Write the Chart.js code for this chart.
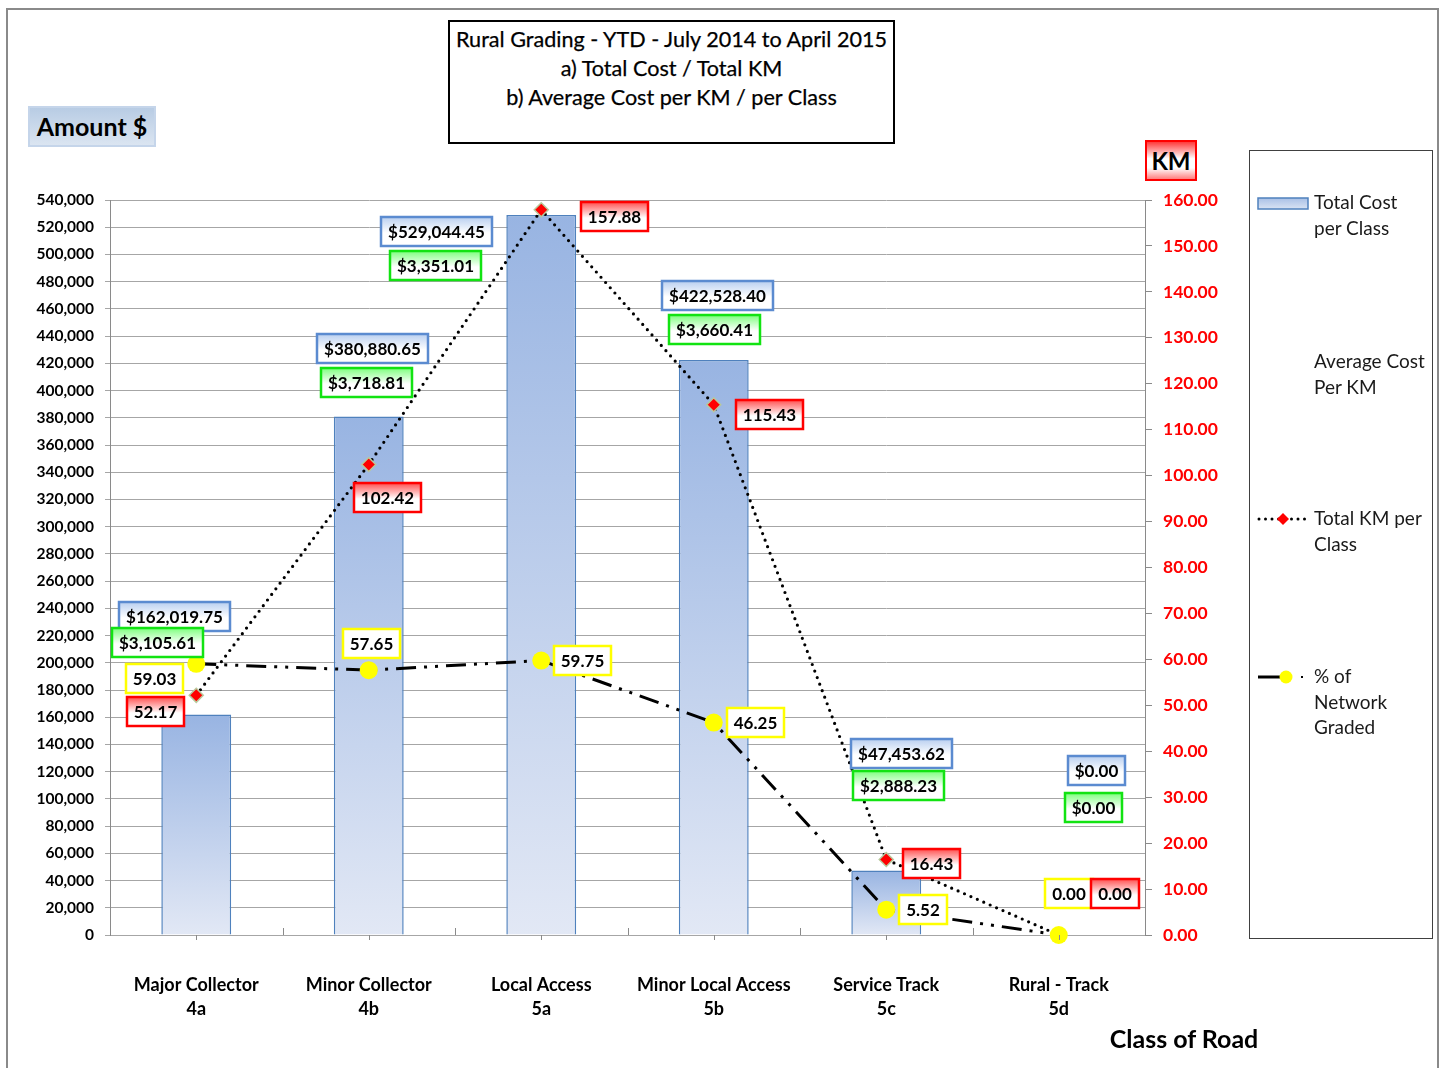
<!DOCTYPE html>
<html>
<head>
<meta charset="utf-8">
<script src="https://cdn.jsdelivr.net/npm/chart.js@4.4.1/dist/chart.umd.min.js"></script>
<style>
  html, body { margin:0; padding:0; background:#fff; }
  #wrap { position:relative; width:1445px; height:1068px; overflow:hidden; font-family:Lato, "Open Sans", sans-serif; }
  #c { position:absolute; left:0; top:0; }
  .abs { position:absolute; box-sizing:border-box; }
  #frame { left:6px; top:8px; width:1433px; height:1100px; border:2px solid #8a8a8a; }
  #title { left:448px; top:20px; width:447px; height:124px; border:2px solid #000; text-align:center; font-size:21.6px; line-height:29px; padding-top:3px; color:#000; background:#fff; -webkit-text-stroke:0.25px #000; }
  #amount { left:28px; top:106px; width:128px; height:41px; border:2px solid #c5d5ea; background:linear-gradient(#b8cce4,#dbe5f1); font-weight:bold; font-size:25px; line-height:37px; text-align:center; color:#000; }
  #km { left:1145px; top:140px; width:52px; height:41px; border:2px solid #ff0000; background:linear-gradient(#ff3b3b 0%, #ffffff 45%, #ffffff 70%, #ff8080 100%); font-weight:bold; font-size:24px; line-height:37px; text-align:center; color:#000; }
  #xtitle { left:1094px; top:1023px; width:180px; font-weight:bold; font-size:25px; text-align:center; color:#000; }
  #legend { left:1249px; top:150px; width:184px; height:789px; border:1px solid #404040; }
  .lt { position:absolute; left:1314px; font-size:19px; line-height:25.5px; color:#1a1a1a; }
</style>
</head>
<body>
<div id="wrap">
  <canvas id="c" width="1445" height="1068"></canvas>
  <div id="frame" class="abs"></div>
  <div id="title" class="abs">Rural Grading - YTD - July 2014 to April 2015<br>a) Total Cost / Total KM<br>b) Average Cost per KM / per Class</div>
  <div id="amount" class="abs">Amount $</div>
  <div id="km" class="abs">KM</div>
  <div id="xtitle" class="abs">Class of Road</div>
  <div id="legend" class="abs"></div>
  <div class="lt" style="top:189px">Total Cost<br>per Class</div>
  <div class="lt" style="top:348px">Average Cost<br>Per KM</div>
  <div class="lt" style="top:505px">Total KM per<br>Class</div>
  <div class="lt" style="top:663px">% of<br>Network<br>Graded</div>
</div>
<script>
// ---- data ----
const categoryNames = ['Major Collector', 'Minor Collector', 'Local Access', 'Minor Local Access', 'Service Track', 'Rural - Track'];
const categoryCodes = ['4a', '4b', '5a', '5b', '5c', '5d'];
const totalCostPerClass = [162019.75, 380880.65, 529044.45, 422528.40, 47453.62, 0.00];
const averageCostPerKm = [3105.61, 3718.81, 3351.01, 3660.41, 2888.23, 0.00];
const totalKmPerClass = [52.17, 102.42, 157.88, 115.43, 16.43, 0.00];
const pctNetworkGraded = [59.03, 57.65, 59.75, 46.25, 5.52, 0.00];
const amountAxis = { min: 0, max: 540000, step: 20000 };
const kmAxis = { min: 0, max: 160, step: 10 };

// ---- label placement (style) ----
const costLabelOffsets = [[-22,-98],[4,-68],[-105,17],[4,-64],[15,-117],[38,-165]];
const avgLabelOffsets  = [[-39,-72],[-2,-34],[-106,51],[1,-30],[12,-85],[35,-128]];
const kmLabelOffsets   = [[-41,16],[19,33],[73,7],[56,10],[45,4],[56,-42]];
const pctLabelOffsets  = [[-42,15],[3,-27],[41,0],[42,0],[37,0],[10,-42]];

const FONT = 'Lato, "Open Sans", sans-serif';
const money = v => '$' + v.toLocaleString('en-US', {minimumFractionDigits:2, maximumFractionDigits:2});
const num2 = v => v.toFixed(2);

function drawBox(c, cx, cy, text, border, topFill) {
  c.save();
  c.font = 'bold 17px ' + FONT;
  const w = Math.round(c.measureText(text).width + 14);
  const h = 29;
  const x = Math.round(cx - w/2), y = Math.round(cy - h/2);
  const g = c.createLinearGradient(0, y, 0, y + h);
  g.addColorStop(0, topFill);
  g.addColorStop(0.55, '#ffffff');
  g.addColorStop(1, '#ffffff');
  c.fillStyle = g;
  c.fillRect(x, y, w, h);
  c.lineWidth = 2.5;
  c.strokeStyle = border;
  c.strokeRect(x, y, w, h);
  c.fillStyle = '#000';
  c.textAlign = 'center';
  c.textBaseline = 'middle';
  c.fillText(text, x + w/2, y + h/2 + 1);
  c.restore();
}

const labelPlugin = {
  id: 'labels',
  afterDatasetsDraw(chart) {
    const c = chart.ctx;
    const bars = chart.getDatasetMeta(0).data;
    const km = chart.getDatasetMeta(1).data;
    const pct = chart.getDatasetMeta(2).data;
    bars.forEach((b, i) => {
      drawBox(c, b.x + costLabelOffsets[i][0], b.y + costLabelOffsets[i][1], money(totalCostPerClass[i]), '#5b8bd0', '#b9cff0');
      drawBox(c, b.x + avgLabelOffsets[i][0], b.y + avgLabelOffsets[i][1], money(averageCostPerKm[i]), '#12e312', '#7dff7d');
    });
    pct.forEach((p, i) => {
      drawBox(c, p.x + pctLabelOffsets[i][0], p.y + pctLabelOffsets[i][1], num2(pctNetworkGraded[i]), '#ffff00', '#ffffff');
    });
    km.forEach((p, i) => {
      drawBox(c, p.x + kmLabelOffsets[i][0], p.y + kmLabelOffsets[i][1], num2(totalKmPerClass[i]), '#ff0000', '#ff5050');
    });
  }
};

const extrasPlugin = {
  id: 'extras',
  afterDraw(chart) {
    const c = chart.ctx;
    const a = chart.chartArea;
    const xs = chart.scales.x;
    c.save();
    c.strokeStyle = '#8a8a8a';
    c.lineWidth = 1;
    const n = categoryNames.length;
    const step = (a.right - a.left) / n;
    for (let i = 0; i <= n; i++) {
      const x = Math.round(a.left + i * step) + 0.5;
      c.beginPath(); c.moveTo(x, a.bottom); c.lineTo(x, a.bottom - 7); c.stroke();
    }
    for (let i = 0; i < n; i++) {
      const x = Math.round(xs.getPixelForValue(i)) + 0.5;
      c.beginPath(); c.moveTo(x, a.bottom); c.lineTo(x, a.bottom + 5); c.stroke();
    }
    // legend glyphs
    const sw = c.createLinearGradient(0, 198, 0, 210);
    sw.addColorStop(0, '#a9c0e6'); sw.addColorStop(1, '#dde6f4');
    c.fillStyle = sw; c.fillRect(1258, 198, 50, 11);
    c.strokeStyle = '#4f81bd'; c.lineWidth = 1.5; c.strokeRect(1258, 198, 50, 11);
    // KM glyph
    c.strokeStyle = '#000'; c.lineWidth = 3; c.lineCap = 'round';
    c.setLineDash([0, 6.5]);
    c.beginPath(); c.moveTo(1259, 519); c.lineTo(1306, 519); c.stroke();
    c.setLineDash([]);
    c.fillStyle = '#ff0000';
    c.beginPath(); c.moveTo(1283, 513); c.lineTo(1289, 519); c.lineTo(1283, 525); c.lineTo(1277, 519); c.closePath(); c.fill();
    // pct glyph
    c.lineCap = 'butt';
    c.beginPath(); c.moveTo(1258, 677); c.lineTo(1284, 677); c.stroke();
    c.fillStyle = '#ffff00';
    c.beginPath(); c.arc(1286, 677, 6.5, 0, Math.PI*2); c.fill();
    c.fillStyle = '#000';
    c.fillRect(1301, 676, 2, 2);
    c.restore();
  }
};

const barFill = (ctx) => {
  const chart = ctx.chart;
  const a = chart.chartArea;
  if (!a) return '#b5c8ea';
  const v = ctx.raw || 0;
  const top = chart.scales.y.getPixelForValue(v);
  const bottom = a.bottom;
  if (bottom - top < 1) return '#dfe7f4';
  const g = chart.ctx.createLinearGradient(0, top, 0, bottom);
  g.addColorStop(0, '#98b4e2');
  g.addColorStop(1, '#e2e8f5');
  return g;
};

new Chart(document.getElementById('c'), {
  data: {
    labels: categoryNames.map((n, i) => [n, categoryCodes[i]]),
    datasets: [
      {
        type: 'bar', label: 'Total Cost per Class', data: totalCostPerClass, yAxisID: 'y',
        backgroundColor: barFill, borderColor: '#4f81bd', borderWidth: 1.5,
        categoryPercentage: 1, barPercentage: 0.405, order: 3
      },
      {
        type: 'line', label: 'Total KM per Class', data: totalKmPerClass, yAxisID: 'y1',
        borderColor: '#000', borderWidth: 3.2, borderDash: [0, 7], borderCapStyle: 'round',
        pointStyle: 'rectRot', pointRadius: 7, pointBackgroundColor: '#ff0000', pointBorderColor: '#b8c99c', pointBorderWidth: 1.5,
        tension: 0, clip: false, order: 2
      },
      {
        type: 'line', label: '% of Network Graded', data: pctNetworkGraded, yAxisID: 'y1',
        borderColor: '#000', borderWidth: 3, borderDash: [20, 8, 3, 8, 3, 8],
        pointStyle: 'circle', pointRadius: 9, pointBackgroundColor: '#ffff00', pointBorderWidth: 0,
        tension: 0, clip: false, order: 1
      }
    ]
  },
  options: {
    responsive: false,
    animation: false,
    devicePixelRatio: 1,
    layout: { padding: { left: 0, right: 200, top: 200, bottom: 0 } },
    plugins: { legend: { display: false }, title: { display: false }, tooltip: { enabled: false } },
    scales: {
      x: {
        grid: { display: false },
        border: { display: false },
        ticks: { color: '#000', font: { family: FONT, size: 18, weight: 'bold', lineHeight: 1.35 }, padding: 30, maxRotation: 0, autoSkip: false },
        afterFit: s => { s.height = 133; }
      },
      y: {
        position: 'left', min: amountAxis.min, max: amountAxis.max,
        ticks: { stepSize: amountAxis.step, color: '#000', padding: 11, font: { family: FONT, size: 15.5, weight: 'bold' },
                 callback: v => v.toLocaleString('en-US') },
        grid: { color: '#a6a6a6', lineWidth: 1, tickLength: 5 },
        border: { color: '#8a8a8a', width: 1 },
        afterFit: s => { s.width = 110; }
      },
      y1: {
        position: 'right', min: kmAxis.min, max: kmAxis.max,
        ticks: { stepSize: kmAxis.step, color: '#ff0000', padding: 11, font: { family: FONT, size: 17.5, weight: 'bold' },
                 callback: v => v.toFixed(2) },
        grid: { drawOnChartArea: false, color: '#8a8a8a', tickLength: 7 },
        border: { color: '#8a8a8a', width: 1 },
        afterFit: s => { s.width = 100; }
      }
    }
  },
  plugins: [labelPlugin, extrasPlugin]
});
</script>
</body>
</html>
